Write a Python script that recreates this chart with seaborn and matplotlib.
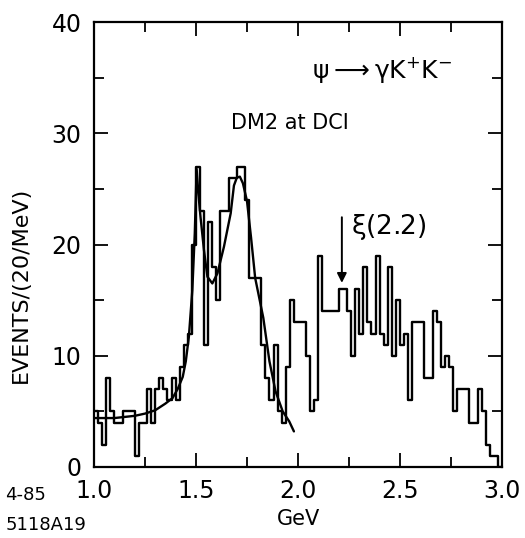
import numpy as np
import pandas as pd
import matplotlib
matplotlib.use('Agg')
import matplotlib.pyplot as plt
from matplotlib.ticker import MultipleLocator
import seaborn as sns

# events per 20 MeV bin from 1.00 to 3.00 GeV
mass_lo = 1.0
mass_hi = 3.0
counts = [
    5, 4, 2, 8, 5, 4, 4, 5, 5, 5,
    1, 4, 4, 7, 4, 7, 8, 7, 6, 8,
    6, 9, 11, 12, 20, 27, 23, 11, 22, 18,
    15, 23, 23, 26, 26, 27, 27, 24, 17, 17,
    17, 11, 8, 6, 11, 5, 4, 9, 15, 13,
    13, 13, 10, 5, 6, 19, 14, 14, 14, 14,
    16, 16, 14, 10, 16, 12, 18, 13, 12, 19,
    12, 11, 18, 10, 15, 11, 12, 6, 13, 13,
    13, 8, 8, 14, 13, 9, 10, 9, 5, 7,
    7, 7, 4, 4, 7, 5, 2, 1, 1, 0,
]

# fitted curve
fit_mass = [1.00, 1.10, 1.20, 1.25, 1.30, 1.35, 1.385, 1.41, 1.435, 1.45,
            1.465, 1.482, 1.494, 1.503, 1.512, 1.522, 1.539, 1.556, 1.58, 1.605,
            1.637, 1.67, 1.686, 1.70, 1.715, 1.73, 1.75, 1.77, 1.79, 1.81,
            1.83, 1.86, 1.89, 1.925, 1.957, 1.98]
fit_events = [4.4, 4.4, 4.6, 4.8, 5.1, 5.7, 6.2, 7.0, 8.1, 9.5,
              11.7, 15.9, 21.0, 26.8, 24.5, 22.5, 19.5, 17.1, 16.5, 17.4,
              19.8, 22.8, 25.3, 26.0, 26.1, 25.5, 23.9, 20.6, 17.0, 15.2,
              13.4, 9.5, 6.8, 5.0, 4.1, 3.2]

x_ticks = [1.0, 1.5, 2.0, 2.5, 3.0]
x_tick_labels = ['1.0', '1.5', '2.0', '2.5', '3.0']
y_ticks = [0, 10, 20, 30, 40]
y_tick_labels = ['0', '10', '20', '30', '40']

sns.set_style('ticks', rc={
    'text.color': 'black',
    'axes.labelcolor': 'black',
    'axes.edgecolor': 'black',
    'xtick.color': 'black',
    'ytick.color': 'black',
})
plt.rcParams['font.family'] = ['DejaVu Sans']
plt.rcParams['mathtext.fontset'] = 'dejavusans'
plt.rcParams['mathtext.default'] = 'regular'

edges = np.linspace(mass_lo, mass_hi, len(counts) + 1)
hist_df = pd.DataFrame({
    'mass': (edges[:-1] + edges[1:]) / 2,
    'events': counts,
})

fig = plt.figure(figsize=(5.25, 5.38), dpi=100)
ax = fig.add_axes([94 / 525, 1 - 467 / 538, 408 / 525, 445 / 538])

sns.histplot(data=hist_df, x='mass', weights='events', bins=len(counts),
             binrange=(mass_lo, mass_hi), element='step', fill=False,
             color='black', linewidth=1.7, ax=ax)
sns.lineplot(x=fit_mass, y=fit_events, sort=False, estimator=None,
             color='black', linewidth=1.7, ax=ax)

ax.set_xlim(mass_lo, mass_hi)
ax.set_ylim(0, 40)
ax.set_xticks(x_ticks)
ax.set_xticklabels(x_tick_labels, fontsize=17)
ax.set_yticks(y_ticks)
ax.set_yticklabels(y_tick_labels, fontsize=17)
ax.xaxis.set_minor_locator(MultipleLocator(0.25))
ax.yaxis.set_minor_locator(MultipleLocator(5))
ax.tick_params(which='both', direction='in', top=True, right=True, width=1.3, colors='black')
ax.tick_params(which='major', length=10, pad=9)
ax.tick_params(which='minor', length=7)

for sp in ax.spines.values():
    sp.set_linewidth(1.6)
    sp.set_color('black')

ax.set_xlabel('GeV', fontsize=15, labelpad=4)
ax.set_ylabel('EVENTS/(20/MeV)', fontsize=16)
ax.yaxis.set_label_coords(-0.155, 0.41)

ax.text(2.07, 35.7, r'$\psi \longrightarrow \gamma K^{+}K^{-}$', fontsize=18,
        ha='left', va='center')
ax.text(1.96, 30.9, 'DM2 at DCI', fontsize=15, ha='center', va='center')
ax.text(2.262, 21.6, r'$\xi$(2.2)', fontsize=19, ha='left', va='center')
ax.annotate('', xy=(2.215, 16.3), xytext=(2.215, 22.7),
            arrowprops=dict(arrowstyle='-|>', color='black', lw=1.4, mutation_scale=14))

fig.text(0.01, 1 - 495 / 538, '4-85', fontsize=13, ha='left', va='center')
fig.text(0.01, 1 - 525 / 538, '5118A19', fontsize=13, ha='left', va='center')

fig.savefig('out.png', dpi=100)
plt.close(fig)
